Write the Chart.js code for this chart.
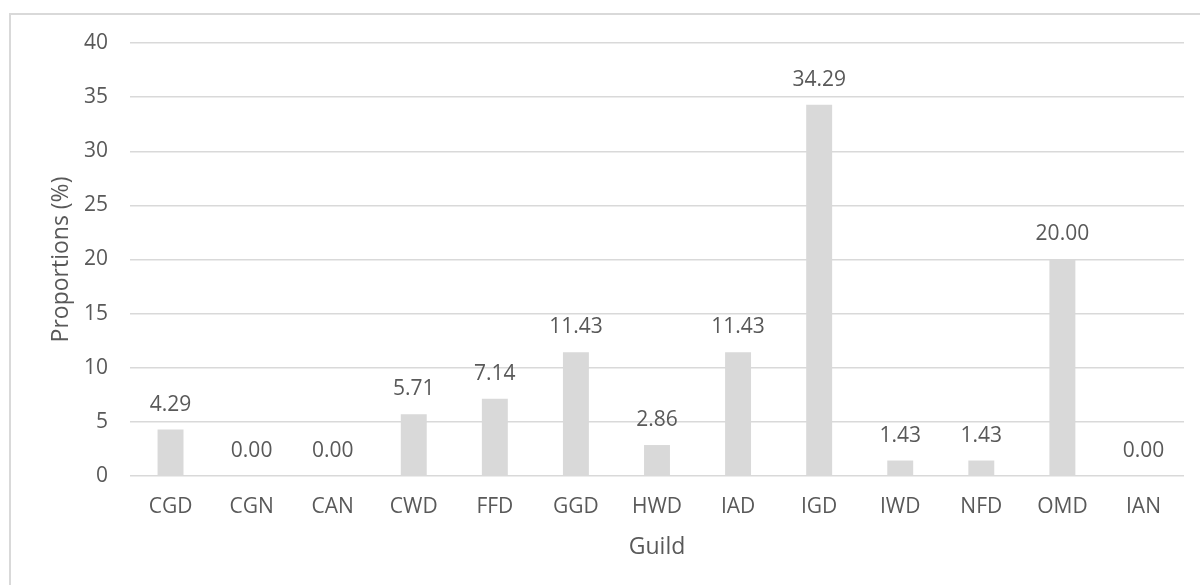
<!DOCTYPE html>
<html>
<head>
  <title>Guild proportions</title>
  <script src="https://cdn.jsdelivr.net/npm/chart.js"></script>
  <style>
    html, body { margin: 0; padding: 0; background: #fff; overflow: hidden; }
    #wrap { position: relative; width: 1200px; height: 585px; }
    #frame {
      position: absolute; left: 9px; top: 13px; width: 1300px; height: 700px;
      border-left: 2px solid #d9d9d9; border-top: 2px solid #d9d9d9;
    }
    canvas { position: absolute; left: 0; top: 0; }
  </style>
</head>
<body>
  <div id="wrap">
    <div id="frame"></div>
    <canvas id="chart" width="1200" height="585"></canvas>
  </div>

  <script>
    const guilds = ['CGD', 'CGN', 'CAN', 'CWD', 'FFD', 'GGD', 'HWD', 'IAD', 'IGD', 'IWD', 'NFD', 'OMD', 'IAN'];
    const proportions = [4.29, 0.00, 0.00, 5.71, 7.14, 11.43, 2.86, 11.43, 34.29, 1.43, 1.43, 20.00, 0.00];
    const yTicks = [0, 5, 10, 15, 20, 25, 30, 35, 40];

    const textColor = '#595959';
    const fontFamily = '"Open Sans", sans-serif';

    // draws the value above each bar, like Excel data labels
    const barLabels = {
      id: 'barLabels',
      afterDatasetsDraw(chart) {
        const ctx = chart.ctx;
        const meta = chart.getDatasetMeta(0);
        ctx.save();
        ctx.font = '21px ' + fontFamily;
        ctx.fillStyle = textColor;
        ctx.textAlign = 'center';
        ctx.textBaseline = 'middle';
        meta.data.forEach((bar, i) => {
          ctx.fillText(proportions[i].toFixed(2), bar.x, bar.y - 25);
        });
        ctx.restore();
      }
    };

    const ctx = document.getElementById('chart').getContext('2d');
    new Chart(ctx, {
      type: 'bar',
      data: {
        labels: guilds,
        datasets: [{
          data: proportions,
          backgroundColor: '#d9d9d9',
          barPercentage: 0.32,
          categoryPercentage: 1,
        }],
      },
      options: {
        responsive: false,
        animation: false,
        layout: { padding: { top: 43, right: 16, left: 0, bottom: 0 } },
        plugins: {
          legend: { display: false },
          tooltip: { enabled: false },
        },
        scales: {
          x: {
            grid: { display: false },
            border: { display: false },
            ticks: { color: textColor, font: { family: fontFamily, size: 21 }, padding: 10 },
            title: {
              display: true, text: 'Guild', color: textColor,
              font: { family: fontFamily, size: 23 }, padding: { top: 0, bottom: 24 },
            },
            afterFit(scale) { scale.height = 109; },
          },
          y: {
            min: 0,
            max: 40,
            afterBuildTicks(scale) { scale.ticks = yTicks.map(v => ({ value: v })); },
            grid: { color: '#d9d9d9', lineWidth: 1.5, drawTicks: false },
            border: { display: false },
            ticks: { color: textColor, font: { family: fontFamily, size: 21 }, padding: 22 },
            title: {
              display: true, text: 'Proportions (%)', color: textColor,
              font: { family: fontFamily, size: 23 }, padding: { top: 48, bottom: 0 },
            },
            afterFit(scale) { scale.width = 130; },
          },
        },
      },
      plugins: [barLabels],
    });
  </script>
</body>
</html>
